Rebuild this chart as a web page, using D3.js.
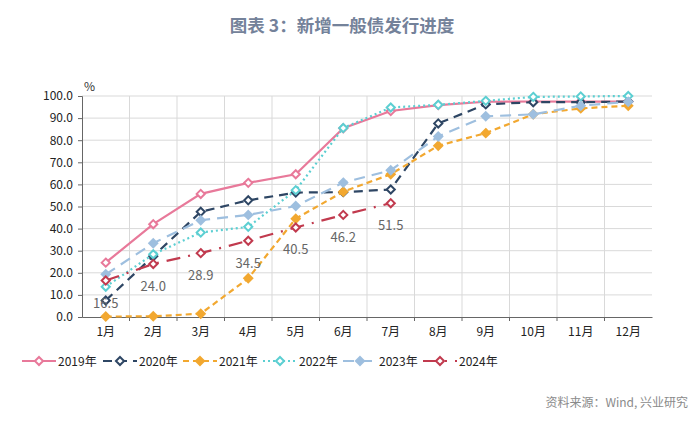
<!DOCTYPE html>
<html>
<head>
<meta charset="utf-8">
<script src="https://cdn.jsdelivr.net/npm/d3@7"></script>
<style>
  body { margin: 0; background: #fff; }
  text { font-family: "Noto Sans CJK SC", "Noto Sans", sans-serif; }
</style>
</head>
<body>
<div id="chart"></div>
<script>
var months = ["1月", "2月", "3月", "4月", "5月", "6月", "7月", "8月", "9月", "10月", "11月", "12月"];
var yTicks = [0, 10, 20, 30, 40, 50, 60, 70, 80, 90, 100];

var v2019 = [24.6, 42.0, 55.7, 60.7, 64.6, 85.4, 93.2, 95.9, 97.4, 97.5, 97.5, 97.5];
var v2020 = [7.5, 27.5, 47.6, 52.8, 56.3, 56.5, 57.7, 87.6, 96.2, 97.2, 97.2, 97.5];
var v2021 = [0.2, 0.3, 1.5, 17.5, 44.5, 56.7, 64.6, 77.5, 83.2, 91.7, 94.4, 95.6];
var v2022 = [13.7, 28.4, 38.2, 40.8, 57.4, 85.5, 94.8, 96.0, 97.8, 99.6, 99.8, 100.0];
var v2023 = [19.3, 33.4, 43.8, 46.2, 50.2, 60.8, 66.4, 81.7, 90.8, 91.7, 95.6, 97.4];
var v2024 = [16.5, 24.0, 28.9, 34.5, 40.5, 46.2, 51.5];

var series = [
  {name: "2019年", values: v2019, color: "#E8799A", dash: null, fill: "#fff"},
  {name: "2020年", values: v2020, color: "#2E4664", dash: "9,6", fill: "#fff"},
  {name: "2021年", values: v2021, color: "#F2A830", dash: "6,4", fill: "#F2A830"},
  {name: "2022年", values: v2022, color: "#5CCFD2", dash: "2,3", fill: "#fff"},
  {name: "2023年", values: v2023, color: "#9EBFDF", dash: "11,7", fill: "#9EBFDF"},
  {name: "2024年", values: v2024, color: "#C13A4E", dash: "14,8,2,8", fill: "#fff"}
];

var svgWidth = 700, svgHeight = 426;
var margin = {top: 96, left: 82};
var width = 570, height = 221;

var svg = d3.select("#chart").append("svg")
  .attr("width", svgWidth)
  .attr("height", svgHeight);

svg.append("text")
  .attr("x", 342).attr("y", 32)
  .attr("text-anchor", "middle")
  .attr("fill", "#74829A")
  .attr("font-size", 17.5)
  .attr("font-weight", 600)
  .text("图表 3：新增一般债发行进度");

svg.append("text")
  .attr("x", 688).attr("y", 407)
  .attr("text-anchor", "end")
  .attr("fill", "#8a8a8a")
  .attr("font-size", 12)
  .text("资料来源：Wind, 兴业研究");

var g = svg.append("g")
  .attr("transform", "translate(" + margin.left + "," + margin.top + ")");

var x = d3.scaleBand().domain(months).range([0, width]);
var y = d3.scaleLinear().domain([0, 100]).range([height, 0]);
var cx = function(i) { return x(months[i]) + x.bandwidth() / 2; };

// grid
g.append("g").selectAll("line").data(yTicks.slice(1)).enter().append("line")
  .attr("x1", 0).attr("x2", width)
  .attr("y1", function(d) { return y(d); }).attr("y2", function(d) { return y(d); })
  .attr("stroke", "#d9d9d9");
g.append("g").selectAll("line").data(months.slice(1)).enter().append("line")
  .attr("x1", function(d) { return x(d); }).attr("x2", function(d) { return x(d); })
  .attr("y1", 0).attr("y2", height)
  .attr("stroke", "#d9d9d9");

// y axis
var yAxis = g.append("g")
  .call(d3.axisLeft(y).tickValues(yTicks).tickFormat(d3.format(".1f")).tickSize(4).tickPadding(5));
yAxis.selectAll("text").attr("font-size", 12).attr("fill", "#222");
yAxis.selectAll("line, path").attr("stroke", "#666");

g.append("text")
  .attr("x", 2).attr("y", -5)
  .attr("font-size", 12).attr("fill", "#333")
  .text("%");

// x axis
var xAxis = g.append("g")
  .attr("transform", "translate(0," + height + ")")
  .call(d3.axisBottom(x).tickSize(0).tickPadding(10));
xAxis.selectAll("text").attr("font-size", 12).attr("fill", "#222");
xAxis.select(".domain").attr("stroke", "#666");
xAxis.selectAll(".bt").data(months.slice(1)).enter().append("line")
  .attr("x1", function(d) { return x(d); }).attr("x2", function(d) { return x(d); })
  .attr("y1", 0).attr("y2", 4).attr("stroke", "#666");

var line = d3.line()
  .x(function(d, i) { return cx(i); })
  .y(function(d) { return y(d); });

var diamond = d3.symbol().type(d3.symbolDiamond2).size(42);

series.forEach(function(s) {
  g.append("path")
    .datum(s.values)
    .attr("fill", "none")
    .attr("stroke", s.color)
    .attr("stroke-width", 2.2)
    .attr("stroke-dasharray", s.dash)
    .attr("d", line);
  g.append("g").selectAll("path").data(s.values).enter().append("path")
    .attr("d", diamond)
    .attr("transform", function(d, i) { return "translate(" + cx(i) + "," + y(d) + ")"; })
    .attr("fill", s.fill)
    .attr("stroke", s.color)
    .attr("stroke-width", 2);
});

// 2024 labels
g.append("g").selectAll("text").data(v2024).enter().append("text")
  .attr("x", function(d, i) { return cx(i); })
  .attr("y", function(d) { return y(d) + 27; })
  .attr("text-anchor", "middle")
  .attr("font-size", 13)
  .attr("fill", "#666")
  .text(function(d) { return d.toFixed(1); });

// legend
var legendX = [22, 103, 183, 263, 343, 423];
var legend = svg.append("g").attr("transform", "translate(0,361)");
series.forEach(function(s, i) {
  var lg = legend.append("g").attr("transform", "translate(" + legendX[i] + ",0)");
  lg.append("line")
    .attr("x1", 0).attr("x2", 34)
    .attr("stroke", s.color).attr("stroke-width", 2.2)
    .attr("stroke-dasharray", s.dash);
  lg.append("path")
    .attr("d", diamond)
    .attr("transform", "translate(17,0)")
    .attr("fill", s.fill).attr("stroke", s.color).attr("stroke-width", 2);
  lg.append("text")
    .attr("x", 36).attr("y", 4.5)
    .attr("font-size", 12).attr("fill", "#222")
    .text(s.name);
});
</script>
</body>
</html>
